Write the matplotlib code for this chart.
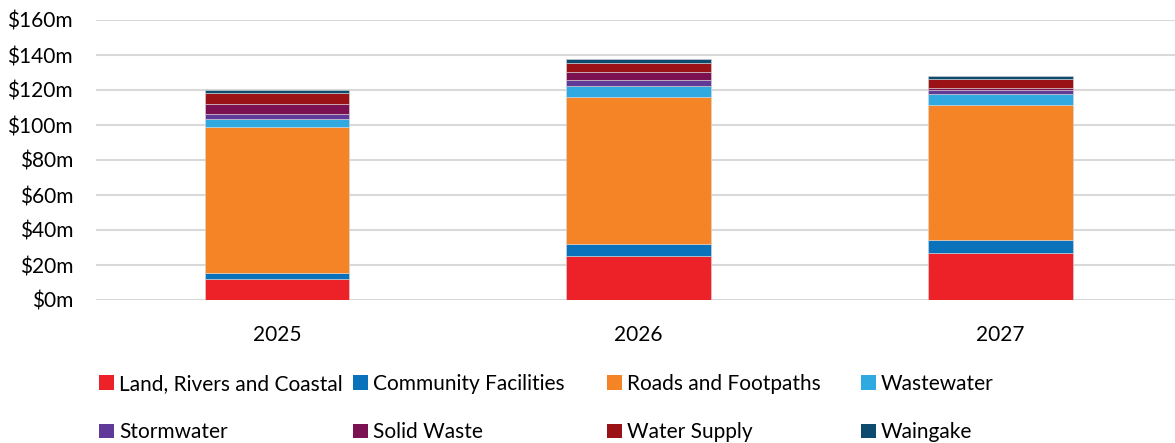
import matplotlib.pyplot as plt
import numpy as np

plt.rcParams['font.family'] = ['Lato', 'DejaVu Sans']

years = ["2025", "2026", "2027"]
categories = [
    "Land, Rivers and Coastal",
    "Community Facilities",
    "Roads and Footpaths",
    "Wastewater",
    "Stormwater",
    "Solid Waste",
    "Water Supply",
    "Waingake",
]
# spend per category, $m, for 2025 / 2026 / 2027
land_rivers = [11.8, 25.1, 26.9]
community = [3.6, 6.9, 7.6]
roads = [83.6, 83.8, 76.7]
wastewater = [4.4, 6.7, 6.5]
stormwater = [2.9, 3.0, 2.3]
solid_waste = [5.9, 4.6, 1.0]
water_supply = [5.9, 5.5, 5.3]
waingake = [2.1, 2.1, 1.7]

series = [land_rivers, community, roads, wastewater,
          stormwater, solid_waste, water_supply, waingake]
colors = ["#ED2128", "#0A72BA", "#F58426", "#2FA9E0",
          "#603A98", "#7B1152", "#9A1116", "#0C4A6E"]
y_ticks = [0, 20, 40, 60, 80, 100, 120, 140, 160]

W, H = 1175, 443
fig = plt.figure(figsize=(W / 100, H / 100), dpi=100)
ax = fig.add_axes([96 / W, (H - 300) / H, (1181 - 96) / W, 280 / H])

x = np.arange(len(years))
bottom = np.zeros(len(years))
handles = []
for vals, col, name in zip(series, colors, categories):
    b = ax.bar(x, vals, width=0.4, bottom=bottom, color=col, label=name,
               edgecolor="#d8d8d8", linewidth=0.4, zorder=3)
    handles.append(b)
    bottom += np.array(vals)

ax.set_xlim(-0.5, 2.5)
ax.set_ylim(0, 160)
ax.set_yticks(y_ticks)
ax.set_yticklabels([f"${v}m" for v in y_ticks])
ax.set_xticks(x)
ax.set_xticklabels(years)
ax.tick_params(axis="both", length=0, labelsize=15, colors="black")
ax.tick_params(axis="y", pad=16.5)
ax.tick_params(axis="x", pad=18)
ax.grid(axis="y", color="#d9d9d9", linewidth=1.5, zorder=0)
for s in ax.spines.values():
    s.set_visible(False)

# legend: four columns of two entries each
col_x = [99, 353, 607, 861]
for i, cx in enumerate(col_x):
    leg = fig.legend([handles[i], handles[i + 4]],
                     [categories[i], categories[i + 4]],
                     loc="upper left", bbox_to_anchor=(cx / W, (H - 374) / H),
                     frameon=False, fontsize=15, handlelength=0.7,
                     handleheight=0.7, handletextpad=0.25,
                     labelspacing=1.35, borderpad=0, borderaxespad=0)
    for p in leg.get_patches():
        p.set_edgecolor("none")

fig.savefig("out.png", dpi=100)
